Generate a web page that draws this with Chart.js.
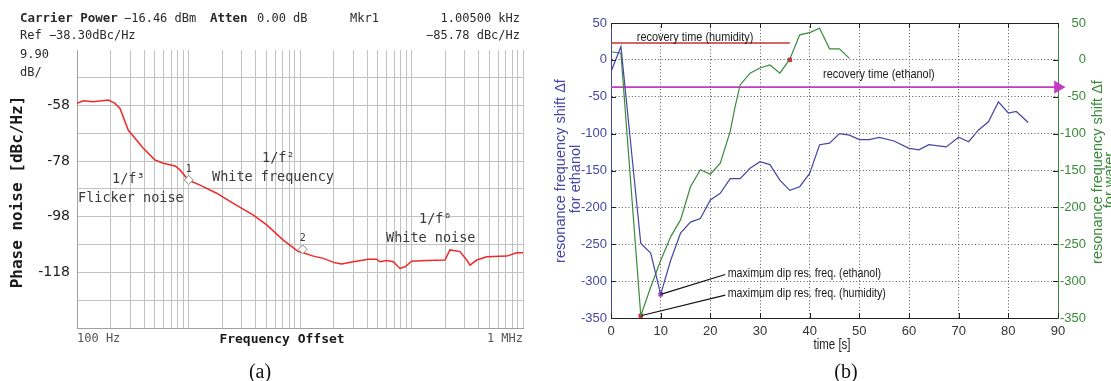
<!DOCTYPE html>
<html><head><meta charset="utf-8">
<script src="https://cdn.jsdelivr.net/npm/chart.js@4.4.1/dist/chart.umd.min.js"></script>
<style>
html,body{margin:0;padding:0;background:#fff;width:1111px;height:381px;overflow:hidden}
canvas{position:absolute;top:0}
#a{left:0}
#b{left:545px}
</style></head><body>
<canvas id="a" width="545" height="381"></canvas>
<canvas id="b" width="566" height="381"></canvas>
<script>
// ---------- Panel (a): phase noise ----------
const noiseFreqHz = [100,114,140,191,219,243,288,393,501,594,757,839,995,1268,1790,2523,3814,5027,7080,9657,10710,13160,16180,20590,23660,30060,41000,48750,52130,59920,68710,78850,87490,100460,136800,199500,221300,272300,312600,334900,384600,473100,714500,879000,1000000];
const noiseDbc = [-57.3,-56.4,-56.7,-56.1,-57.3,-59.1,-66.8,-73.3,-77.5,-78.6,-79.6,-81.0,-84.6,-86.4,-89.3,-92.9,-97.1,-100.6,-106.0,-110.1,-110.5,-111.7,-112.5,-114.1,-114.5,-113.7,-112.8,-112.8,-113.7,-113.3,-113.7,-116.1,-115.5,-113.5,-113.3,-113.1,-109.5,-110.1,-113.1,-114.9,-113.1,-111.9,-111.7,-110.5,-110.5];
const markerFreqHz = [1005, 10570];
const markerDbc = [-84.6, -109.3];
const markerLabels = ['1','2'];
const refLevelDbc = -38.3;
const dbPerDiv = 9.9;
const numDivs = 10;
const yTickLabelValues = [-58.1,-77.9,-97.7,-117.5];
const yTickLabels = ['-58','-78','-98','-118'];
const decadeStartsHz = [100,1000,10000,100000];
const xEdgeLabels = {100:'100 Hz', 1000000:'1 MHz'};

// ---------- Panel (b): resonance frequency shift ----------
const timeEthanol = [0,2,6,8,10,12,14,16,18,20,22,24,26,28,30,32,34,36,38,40,42,44,46,48,50,52,54,57,60,62,64,67.5,70,72,74,76,78,80,81.6,84];
const shiftEthanol = [-16,18,-249,-262,-318,-272,-235,-220,-215,-190,-181,-161,-161,-147,-138,-142,-163,-177,-172,-154,-115,-113,-100,-102,-108,-108,-105,-110,-120,-122,-115,-118,-105,-111,-95,-84,-57,-72,-70,-85];
const timeWater = [0,2,6,8,10,12,14,16,18,20,22,24,25,26,28,30,32,34,36,38,40,42,44,46,48];
const shiftWater = [11,9,-347,-308,-272,-240,-217,-172,-149,-155,-140,-97,-63,-34,-18,-11,-7,-18,1,34,37,43,15,15,2];
const recoveryHumidity = {t:[0,36], v:[23,23]};
const recoveryEthanol = {t:[0,90], v:[-37,-37]};
const dipEthanol = {t:10, v:-318};
const dipWater = {t:6, v:-347};
const recoveryPointWater = {t:36, v:0};
const leaderEthanol = {t:[10,23], v:[-318,-291]};
const leaderWater = {t:[6,23], v:[-347,-319]};

const MONO = '"DejaVu Sans Mono", "Liberation Mono", monospace';
const SANS = '"Liberation Sans", Arial, sans-serif';

const pts = (xs, ys) => xs.map((x,i)=>({x:x, y:ys[i]}));

// ---------- Chart (a) ----------
const textA = {
  id:'textA',
  afterDraw(chart){
    const ctx = chart.ctx, xs = chart.scales.x, ys = chart.scales.y;
    ctx.save();
    ctx.textBaseline = 'alphabetic';
    ctx.fillStyle = '#2a2a2a';
    ctx.textAlign = 'left';
    ctx.font = 'bold 12.5px ' + MONO; ctx.fillText('Carrier Power', 20, 22);
    ctx.font = '12px ' + MONO; ctx.fillText('\u221216.46 dBm', 124, 22);
    ctx.font = 'bold 12.5px ' + MONO; ctx.fillText('Atten', 210, 22);
    ctx.font = '12px ' + MONO; ctx.fillText('0.00 dB', 257, 22);
    ctx.fillText('Mkr1', 350, 22);
    ctx.textAlign = 'right';
    ctx.fillText('1.00500 kHz', 520, 22);
    ctx.fillText('\u221285.78 dBc/Hz', 520, 39);
    ctx.textAlign = 'left';
    ctx.fillText('Ref \u221238.30dBc/Hz', 20, 39);
    ctx.fillText('9.90', 20, 58);
    ctx.fillText('dB/', 20, 76);
    ctx.font = 'bold 16px ' + MONO;
    ctx.fillStyle = '#1a1a1a';
    ctx.save(); ctx.translate(18, 192); ctx.rotate(-Math.PI/2);
    ctx.textAlign = 'center'; ctx.textBaseline = 'middle';
    ctx.fillText('Phase noise [dBc/Hz]', 0, 0); ctx.restore();
    ctx.font = 'bold 13px ' + MONO; ctx.textAlign = 'center';
    ctx.fillText('Frequency Offset', 282, 343);
    ctx.fillStyle = '#3a3a3a'; ctx.textAlign = 'left';
    ctx.font = '13.5px ' + MONO;
    ctx.fillText('1/f\u00b3', 112, 183);
    ctx.fillText('Flicker noise', 78, 202);
    ctx.fillText('1/f\u00b2', 262, 162);
    ctx.fillText('White frequency', 212, 181);
    ctx.fillText('1/f\u2070', 419, 223);
    ctx.fillText('White noise', 386, 242);
    ctx.font = '10px ' + MONO; ctx.textAlign = 'center';
    markerLabels.forEach((l,i)=>{
      ctx.fillText(l, xs.getPixelForValue(markerFreqHz[i]), ys.getPixelForValue(markerDbc[i]) - 8);
    });
    ctx.fillStyle = '#111';
    ctx.font = '20px "Liberation Serif", "DejaVu Serif", serif';
    ctx.fillText('(a)', 260, 378);
    ctx.restore();
  }
};

new Chart(document.getElementById('a'), {
  type:'line',
  data:{datasets:[
    {data: pts(noiseFreqHz, noiseDbc), borderColor:'#f02a2a', borderWidth:1.5, pointRadius:0, tension:0, order:2},
    {data: pts(markerFreqHz, markerDbc), showLine:false, pointStyle:'rectRot', pointRadius:4.5,
     pointBackgroundColor:'#ffffff', pointBorderColor:'#8a8a8a', pointBorderWidth:1, order:1}
  ]},
  options:{
    responsive:false, animation:false, devicePixelRatio:1,
    layout:{padding:{top:50, right:22, left:0, bottom:0}},
    plugins:{legend:{display:false}, tooltip:{enabled:false}},
    scales:{
      x:{
        type:'logarithmic', min:100, max:1000000,
        afterBuildTicks(s){
          const t = [];
          decadeStartsHz.forEach(d=>{ for(let m=1;m<10;m++) t.push({value:d*m}); });
          t.push({value:1000000});
          s.ticks = t;
        },
        afterFit(s){ s.height = 53; },
        grid:{color:'#c2c2c2', lineWidth:1, drawTicks:false},
        border:{color:'#a0a0a0'},
        ticks:{autoSkip:false, maxRotation:0, minRotation:0, align:'inner', padding:4, color:'#555',
               font:{family:MONO, size:12},
               callback(v){ return xEdgeLabels[v] || ''; }}
      },
      y:{
        min: refLevelDbc - dbPerDiv*numDivs, max: refLevelDbc,
        afterBuildTicks(s){
          const t = [];
          for(let i=numDivs;i>=0;i--) t.push({value: refLevelDbc - dbPerDiv*i});
          s.ticks = t;
        },
        afterFit(s){ s.width = 77; },
        grid:{drawTicks:false, lineWidth:1,
              color(c){ return (c.tick && Math.abs(c.tick.value - refLevelDbc) < 0.01) ? 'rgba(0,0,0,0)' : '#c2c2c2'; }},
        border:{color:'#a0a0a0'},
        ticks:{autoSkip:false, padding:7, color:'#222', font:{family:'"DejaVu Sans", sans-serif', size:14},
               callback(v){
                 const k = yTickLabelValues.findIndex(q=>Math.abs(q-v)<0.05);
                 return k>=0 ? yTickLabels[k] : '';
               }}
      }
    }
  },
  plugins:[textA]
});

// ---------- Chart (b) ----------
const BLUE = '#4646a6', GREEN = '#3a8a3a';
function narrowText(ctx, txt, x, y, sx){
  ctx.save(); ctx.translate(x, y); ctx.scale(sx, 1); ctx.fillText(txt, 0, 0); ctx.restore();
}
const frameB = {
  id:'frameB',
  afterDraw(chart){
    const ctx = chart.ctx, a = chart.chartArea, xs = chart.scales.x, ys = chart.scales.y;
    ctx.save();
    ctx.strokeStyle = '#222'; ctx.lineWidth = 1;
    ctx.beginPath(); ctx.moveTo(a.left, a.top+0.5); ctx.lineTo(a.right, a.top+0.5); ctx.stroke();
    ctx.beginPath();
    xs.ticks.forEach(t=>{
      const px = Math.round(xs.getPixelForValue(t.value))+0.5;
      ctx.moveTo(px, a.bottom); ctx.lineTo(px, a.bottom-5);
      ctx.moveTo(px, a.top); ctx.lineTo(px, a.top+5);
    });
    ys.ticks.forEach(t=>{
      const py = Math.round(ys.getPixelForValue(t.value))+0.5;
      ctx.moveTo(a.left, py); ctx.lineTo(a.left+5, py);
      ctx.moveTo(a.right, py); ctx.lineTo(a.right-5, py);
    });
    ctx.stroke();
    ctx.fillStyle = '#1a1a1a'; ctx.textAlign = 'left'; ctx.textBaseline = 'middle';
    ctx.font = '13px ' + SANS;
    narrowText(ctx, 'recovery time (humidity)', xs.getPixelForValue(5.2), ys.getPixelForValue(30), 0.84);
    narrowText(ctx, 'recovery time (ethanol)', xs.getPixelForValue(42.7), ys.getPixelForValue(-20), 0.84);
    narrowText(ctx, 'maximum dip res. freq. (ethanol)', xs.getPixelForValue(23.5), ys.getPixelForValue(-290), 0.82);
    narrowText(ctx, 'maximum dip res. freq. (humidity)', xs.getPixelForValue(23.5), ys.getPixelForValue(-317), 0.82);
    ctx.textAlign = 'center';
    ctx.font = '14.5px ' + SANS;
    ctx.fillStyle = BLUE;
    ctx.save(); ctx.translate(16, 171); ctx.rotate(-Math.PI/2);
    ctx.fillText('resonance frequency shift \u0394f', 0, 0); ctx.restore();
    ctx.save(); ctx.translate(31, 179); ctx.rotate(-Math.PI/2);
    ctx.fillText('for ethanol', 0, 0); ctx.restore();
    ctx.fillStyle = GREEN;
    ctx.save(); ctx.translate(553, 172); ctx.rotate(-Math.PI/2);
    ctx.fillText('resonance frequency shift \u0394f', 0, 0); ctx.restore();
    ctx.save(); ctx.translate(565, 180); ctx.rotate(-Math.PI/2);
    ctx.fillText('for water', 0, 0); ctx.restore();
    ctx.fillStyle = '#222';
    ctx.font = '14px ' + SANS;
    narrowText(ctx, 'time [s]', 287, 345, 0.82);
    ctx.fillStyle = '#111';
    ctx.font = '20px "Liberation Serif", "DejaVu Serif", serif';
    ctx.textBaseline = 'alphabetic';
    ctx.fillText('(b)', 301, 378);
    ctx.restore();
  }
};

new Chart(document.getElementById('b'), {
  type:'line',
  data:{datasets:[
    {data: pts(timeEthanol, shiftEthanol), yAxisID:'y', borderColor:BLUE, borderWidth:1.2, pointRadius:0, tension:0},
    {data: pts(timeWater, shiftWater), yAxisID:'y2', borderColor:GREEN, borderWidth:1.2, pointRadius:0, tension:0},
    {data: pts(recoveryHumidity.t, recoveryHumidity.v), yAxisID:'y', borderColor:'#c83232', borderWidth:1.5, pointRadius:0},
    {data: pts(recoveryEthanol.t, recoveryEthanol.v), yAxisID:'y', borderColor:'#c23cc2', borderWidth:1.6,
     pointRadius:[0,6], pointStyle:'triangle', rotation:90, pointBackgroundColor:'#c23cc2', pointBorderColor:'#c23cc2', clip:false},
    {data: pts(leaderEthanol.t, leaderEthanol.v), yAxisID:'y', borderColor:'#111', borderWidth:1.2, pointRadius:0},
    {data: pts(leaderWater.t, leaderWater.v), yAxisID:'y', borderColor:'#111', borderWidth:1.2, pointRadius:0},
    {data: [{x:dipEthanol.t, y:dipEthanol.v}], yAxisID:'y', showLine:false, pointStyle:'rect', pointRadius:2.5,
     pointBackgroundColor:'#c040c0', pointBorderColor:'#c040c0'},
    {data: [{x:dipWater.t, y:dipWater.v},{x:recoveryPointWater.t, y:recoveryPointWater.v}], yAxisID:'y', showLine:false,
     pointStyle:'rect', pointRadius:2.5, pointBackgroundColor:'#e0203a', pointBorderColor:'#e0203a'}
  ]},
  options:{
    responsive:false, animation:false, devicePixelRatio:1,
    layout:{padding:{top:23, right:25, left:0, bottom:0}},
    plugins:{legend:{display:false}, tooltip:{enabled:false}},
    scales:{
      x:{type:'linear', min:0, max:90,
        afterFit(s){ s.height = 63; },
        grid:{color:'#555', lineWidth:1, drawTicks:false},
        border:{color:'#222', width:1, dash:[1,2.3]},
        ticks:{stepSize:10, padding:6, color:'#333', font:{family:SANS, size:13}}
      },
      y:{min:-350, max:50, position:'left',
        afterFit(s){ s.width = 66; },
        grid:{color:'#555', lineWidth:1, drawTicks:false},
        border:{color:BLUE, width:1, dash:[1,2.3]},
        ticks:{stepSize:50, padding:4, color:BLUE, font:{family:SANS, size:13}}
      },
      y2:{min:-350, max:50, position:'right',
        afterFit(s){ s.width = 28; },
        grid:{display:false, drawTicks:false},
        border:{color:GREEN, width:1},
        ticks:{stepSize:50, padding:3, crossAlign:'far', color:GREEN, font:{family:SANS, size:13}}
      }
    }
  },
  plugins:[frameB]
});
</script>
</body></html>
